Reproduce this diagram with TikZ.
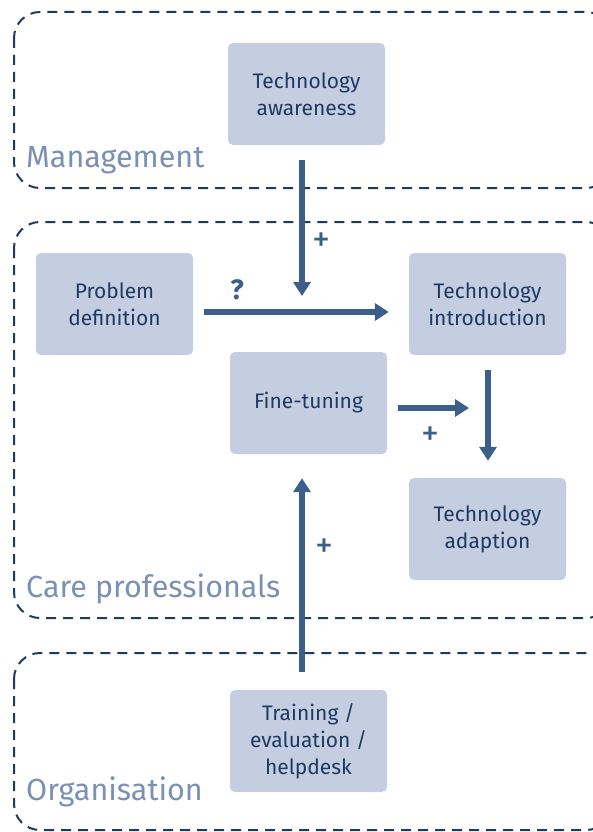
\documentclass[tikz,border=0pt]{standalone}
\usepackage{fontspec}
\setmainfont{Fira Sans}
\usetikzlibrary{arrows.meta,positioning}

\definecolor{boxfill}{HTML}{C5CDE0}
\definecolor{boxtext}{HTML}{1C3A64}
\definecolor{flowblue}{HTML}{3B5E8A}
\definecolor{dashblue}{HTML}{1F3A60}
\definecolor{labelblue}{HTML}{7A90B5}

\tikzset{
  box/.style={fill=boxfill, text=boxtext, rounded corners=5pt, minimum width=157pt,
    minimum height=102pt, align=center, font=\fontsize{21}{27}\selectfont, inner sep=0pt},
  region/.style={draw=dashblue, line width=2pt, dash pattern=on 10pt off 7pt, rounded corners=26pt},
  regionlabel/.style={anchor=base west, text=labelblue, font=\fontsize{30.5}{34}\selectfont, inner sep=0pt},
  flow/.style={draw=flowblue, line width=6pt, -{Triangle[length=14pt,width=17pt]}},
  sign/.style={text=flowblue, font=\bfseries\fontsize{28}{30}\selectfont, inner sep=0pt},
  plussign/.style={sign, font=\fontsize{36}{38}\selectfont}
}

\begin{document}
\begin{tikzpicture}[x=1pt,y=-1pt]
  \useasboundingbox (0,0) rectangle (592,832);

  % regions
  \draw[region] (14,12) rectangle (612,188);
  \draw[region] (14,222) rectangle (612,618);
  \draw[region] (14,653) rectangle (612,830);

  \node[regionlabel] (mgmt) at (26,167) {Management};
  \node[regionlabel] (care) at (26,597) {Care professionals};
  \node[regionlabel] (org) at (26,800) {Organisation};

  % steps
  \node[box] (aware) at (306.5,94) {Technology\\awareness};
  \node[box] (probdef) at (114.5,304) {Problem\\definition};
  \node[box] (intro) at (487.5,304) {Technology\\introduction};
  \node[box] (tune) at (308.5,403) {Fine-tuning};
  \node[box] (adapt) at (487.5,529) {Technology\\adaption};
  \node[box] (train) at (308.5,741) {Training /\\evaluation /\\helpdesk};

  \coordinate (meet) at (302,296);
  \coordinate (tuneend) at (469,408);

  % flows
  \draw[flow] ([xshift=-4.5pt,yshift=-15pt]aware.south) -- (meet);
  \draw[flow] ([xshift=11pt,yshift=-8pt]probdef.east) -- ([xshift=-20pt,yshift=-8pt]intro.west);
  \draw[flow] ([xshift=11pt,yshift=-5pt]tune.east) -- (tuneend);
  \draw[flow] ([xshift=0.5pt,yshift=-15pt]intro.south) -- ([xshift=0.5pt,yshift=17pt]adapt.north);
  \draw[flow] ([xshift=-6.5pt,yshift=18pt]train.north) -- ([xshift=-6.5pt,yshift=-24pt]tune.south);

  \node[plussign] (plusa) at (321,242) {+};
  \node[sign] (quest) at (237,290) {?};
  \node[plussign] (plusb) at (430,436) {+};
  \node[plussign] (plusc) at (324,548) {+};
\end{tikzpicture}
\end{document}
